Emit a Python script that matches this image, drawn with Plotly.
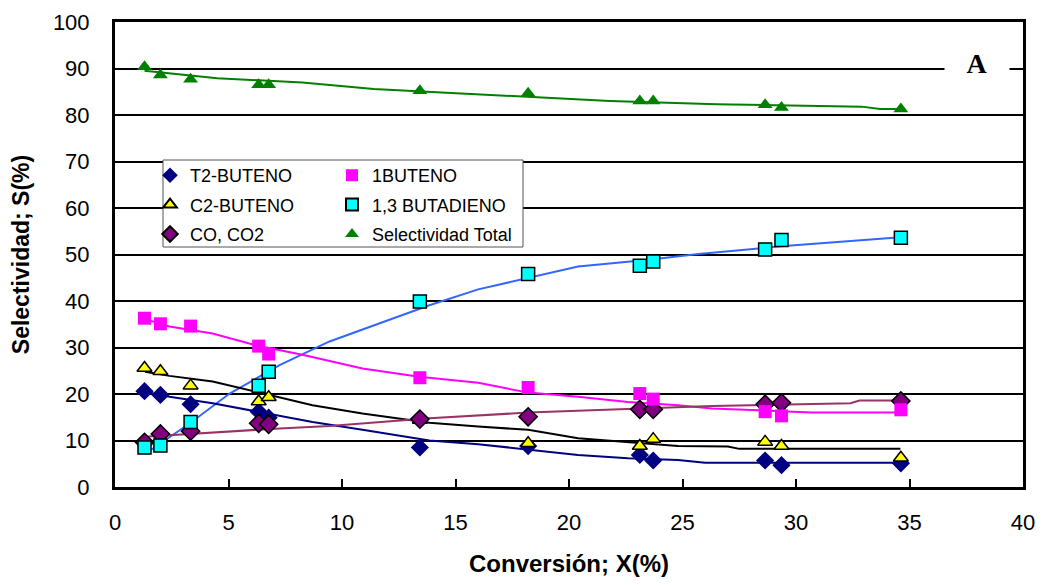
import plotly.graph_objects as go

# ---- data ----
conversion = [1.3, 2.0, 3.33, 6.33, 6.77, 13.43, 18.2, 23.12, 23.71, 28.64, 29.36, 34.62]
t2_buteno = [20.6, 19.8, 17.8, 16.2, 14.9, 8.5, 8.8, 6.9, 5.7, 5.7, 4.7, 5.1]
buteno1 = [36.3, 35.1, 34.6, 30.3, 28.6, 23.5, 21.4, 20.1, 18.9, 16.2, 15.3, 16.6]
c2_buteno = [25.6, 24.9, 21.8, 18.4, 19.3, 14.4, 9.4, 8.8, 10.3, 9.7, 8.8, 6.3]
butadieno = [8.5, 8.9, 14.0, 21.8, 24.8, 39.9, 45.8, 47.6, 48.5, 51.1, 53.1, 53.6]
co_co2 = [9.6, 11.4, 12.0, 13.7, 13.5, 14.6, 15.1, 16.7, 16.7, 17.8, 18.1, 18.5]
sel_total = [90.4, 88.6, 87.7, 86.5, 86.5, 85.2, 84.7, 83.0, 83.0, 82.2, 81.6, 81.3]

# trend lines
tl_blue_x = [1.32, 3.3, 5.05, 7.25, 9.45, 11.65, 13.85, 16.0, 18.2, 20.4, 23.4, 25.7, 29.2, 34.6]
tl_blue_y = [7.1, 13.7, 20.1, 26.2, 31.3, 35.2, 39.1, 42.5, 44.9, 47.4, 48.8, 50.1, 51.7, 53.7]
tl_pink_x = [1.32, 2.4, 4.3, 6.2, 8.3, 10.9, 13.4, 16.0, 18.2, 20.4, 22.6, 24.8, 26.3, 30.7, 34.6]
tl_pink_y = [36.1, 34.5, 33.0, 30.5, 28.4, 25.5, 23.7, 22.4, 20.3, 19.4, 18.3, 17.6, 16.9, 16.0, 16.0]
tl_black_x = [1.32, 2.4, 4.3, 6.5, 8.7, 10.9, 13.85, 16.0, 18.2, 20.4, 22.6, 24.8, 27.0, 27.5, 34.6]
tl_black_y = [24.8, 23.9, 22.7, 20.1, 17.6, 15.8, 13.8, 13.0, 12.3, 10.5, 9.7, 8.8, 8.7, 8.2, 8.2]
tl_navy_x = [1.32, 2.4, 4.3, 6.5, 8.7, 10.9, 13.85, 16.0, 18.2, 20.4, 22.6, 24.8, 26.0, 34.6]
tl_navy_y = [20.5, 19.4, 18.0, 16.0, 14.0, 12.3, 10.0, 9.2, 8.0, 6.9, 6.2, 5.8, 5.2, 5.2]
tl_purple_x = [1.32, 3.3, 5.05, 7.25, 9.45, 11.65, 13.85, 18.2, 22.6, 25.7, 26.3, 32.4, 32.8, 34.6]
tl_purple_y = [10.8, 11.4, 11.9, 12.6, 13.1, 14.0, 14.8, 16.0, 16.8, 17.3, 17.4, 18.0, 18.6, 18.6]
tl_green_x = [1.3, 4.5, 8.25, 11.4, 14.6, 18.3, 21.8, 26.5, 32.9, 33.7, 34.7]
tl_green_y = [89.5, 87.9, 87.0, 85.6, 84.8, 83.9, 83.0, 82.3, 81.8, 81.3, 81.3]

x_ticks = [0, 5, 10, 15, 20, 25, 30, 35, 40]
y_ticks = [0, 10, 20, 30, 40, 50, 60, 70, 80, 90, 100]

FONT = "Liberation Sans, Arial, sans-serif"

fig = go.Figure()

# trend lines first (under the markers)
for xs, ys, col in [
    (tl_blue_x, tl_blue_y, "#3366FF"),
    (tl_pink_x, tl_pink_y, "#FF00FF"),
    (tl_black_x, tl_black_y, "#000000"),
    (tl_navy_x, tl_navy_y, "#000080"),
    (tl_purple_x, tl_purple_y, "#993366"),
    (tl_green_x, tl_green_y, "#008000"),
]:
    fig.add_trace(go.Scatter(x=xs, y=ys, mode="lines", line=dict(color=col, width=2),
                             showlegend=False, hoverinfo="skip"))

series = [
    ("T2-BUTENO", t2_buteno, "diamond", "#000080", 0, "#000080", "legend"),
    ("C2-BUTENO", c2_buteno, "triangle-up", "#FFFF00", 1.5, "#000000", "legend"),
    ("CO, CO2", co_co2, "diamond", "#800080", 1.5, "#000000", "legend"),
    ("1BUTENO", buteno1, "square", "#FF00FF", 0, "#FF00FF", "legend2"),
    ("1,3 BUTADIENO", butadieno, "square", "#00FFFF", 1.5, "#000000", "legend2"),
    ("Selectividad Total", sel_total, "triangle-up", "#008000", 0, "#008000", "legend2"),
]
for name, ys, sym, col, lw, lc, leg in series:
    fig.add_trace(go.Scatter(
        x=conversion, y=ys, mode="markers", name=name, legend=leg, legendgroup=name,
        marker=dict(symbol=sym, size=13 if sym != "diamond" else 14, color=col,
                    line=dict(width=lw, color=lc)),
    ))

# page body has an 8px margin; compensate so the plot area lands at 115..1023 x 22..487
OFF = 8
W, H = 1043 - OFF, 585 - OFF
x0p, x1p = 115, 1023
y0p, y1p = 487, 22
def px2paper_x(p):
    return (p - x0p) / (x1p - x0p)
def px2paper_y(p):
    return (y0p - p) / (y0p - y1p)

leg_common = dict(
    bgcolor="rgba(0,0,0,0)", borderwidth=0, orientation="v",
    font=dict(family=FONT, size=18, color="black"),
    xanchor="left", yanchor="top", tracegroupgap=3, itemsizing="constant",
)
fig.update_layout(
    legend=dict(x=px2paper_x(150), y=px2paper_y(157), **leg_common),
    legend2=dict(x=px2paper_x(332), y=px2paper_y(157), **leg_common),
)

# legend frame
fig.add_shape(type="rect", xref="paper", yref="paper",
              x0=px2paper_x(163), x1=px2paper_x(523), y0=px2paper_y(247), y1=px2paper_y(160),
              fillcolor="white", line=dict(color="#555555", width=1), layer="above")

fig.add_annotation(x=px2paper_x(977), y=px2paper_y(63), xref="paper", yref="paper",
                   xanchor="center", yanchor="middle",
                   text="<b>A</b>", showarrow=False, bgcolor="white", borderpad=2,
                   width=60, height=26,
                   font=dict(family="Liberation Serif, Times New Roman, serif", size=28, color="black"))

fig.update_layout(
    width=W, height=H,
    margin=dict(l=115 - OFF, r=W - (1023 - OFF), t=22 - OFF, b=(H + OFF) - 487),
    paper_bgcolor="white", plot_bgcolor="white",
    font=dict(family=FONT, color="black"),
    xaxis=dict(
        range=[0, 40], tickvals=x_ticks, ticktext=[str(v) for v in x_ticks],
        showgrid=False, zeroline=False, automargin=False,
        showline=True, linecolor="black", linewidth=3, mirror=True,
        ticks="inside", ticklen=8, tickwidth=1.5, tickcolor="black",
        tickfont=dict(family=FONT, size=22), ticklabelstandoff=14,
        title=dict(text="<b>Conversión; X(%)</b>", font=dict(family=FONT, size=24), standoff=21),
    ),
    yaxis=dict(
        range=[0, 100], tickvals=y_ticks, ticktext=[str(v) for v in y_ticks],
        showgrid=True, gridcolor="black", gridwidth=2, zeroline=False, automargin=False,
        showline=True, linecolor="black", linewidth=3, mirror=True,
        ticks="inside", ticklen=8, tickwidth=1.5, tickcolor="black",
        tickfont=dict(family=FONT, size=22), ticklabelstandoff=18,
        title=dict(text="<b>Selectividad; S(%)</b>", font=dict(family=FONT, size=23), standoff=19),
    ),
)

fig.write_html("out.html")
